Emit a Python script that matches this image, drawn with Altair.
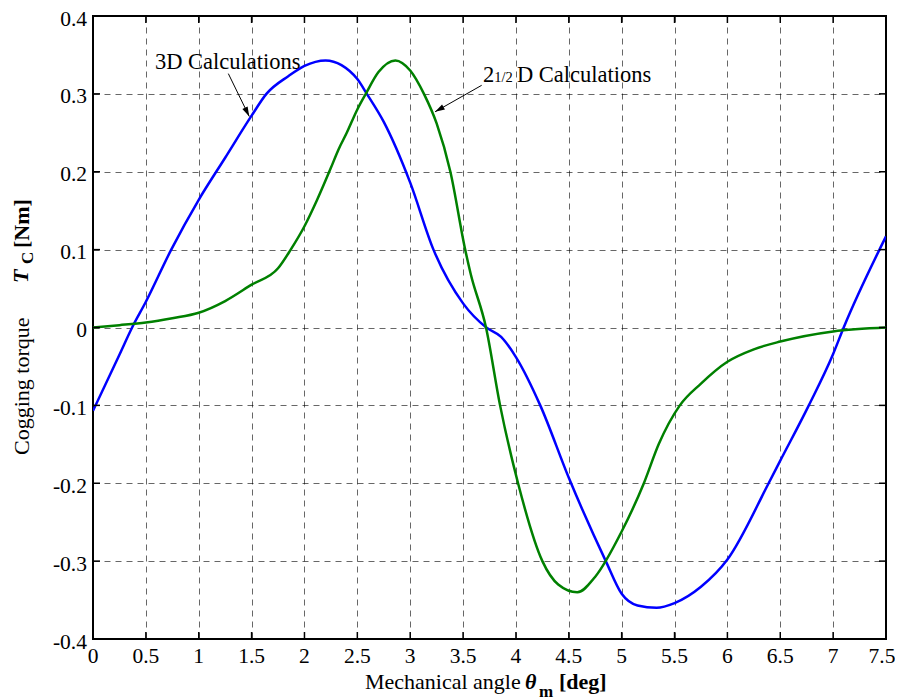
import altair as alt
import pandas as pd

# 3D Calculations (blue)
x_3d = [0, 0.25, 0.37, 0.5, 0.74, 1.0, 1.25, 1.5, 1.64, 1.85, 2.0, 2.2, 2.35, 2.5, 2.59, 2.75,
        3.0, 3.22, 3.5, 3.72, 3.86, 4.0, 4.23, 4.5, 4.85, 5.0, 5.15, 5.33, 5.5, 5.75, 6.0,
        6.39, 6.5, 6.77, 7.0, 7.1, 7.5]
t_3d = [-0.107, -0.035, 0.0, 0.033, 0.10, 0.164, 0.218, 0.272, 0.30, 0.323, 0.336, 0.343, 0.337,
        0.319, 0.30, 0.264, 0.186, 0.10, 0.031, 0.0, -0.012, -0.038, -0.10, -0.193, -0.30,
        -0.342, -0.357, -0.36, -0.354, -0.333, -0.298, -0.20, -0.171, -0.10, -0.034, 0.0, 0.117]

# 2 1/2 D Calculations (green)
x_25d = [0, 0.25, 0.5, 0.75, 1.0, 1.25, 1.5, 1.75, 1.87, 2.0, 2.12, 2.25, 2.32, 2.4, 2.5, 2.58,
         2.7, 2.86, 3.0, 3.13, 3.25, 3.38, 3.52, 3.57, 3.717, 3.85, 4.02, 4.25, 4.4, 4.58,
         4.75, 5.0, 5.21, 5.35, 5.55, 5.75, 6.0, 6.25, 6.5, 7.0, 7.5]
t_25d = [0.0, 0.003, 0.0065, 0.012, 0.019, 0.034, 0.055, 0.076, 0.10, 0.13, 0.164, 0.205, 0.228,
         0.25, 0.28, 0.30, 0.328, 0.343, 0.33, 0.30, 0.262, 0.20, 0.10, 0.07, 0.0, -0.10, -0.20,
         -0.30, -0.33, -0.34, -0.32, -0.262, -0.20, -0.15, -0.10, -0.072, -0.044, -0.028,
         -0.018, -0.005, 0.0]

x_ticks = [0, 0.5, 1, 1.5, 2, 2.5, 3, 3.5, 4, 4.5, 5, 5.5, 6, 6.5, 7, 7.5]
x_tick_labels = ["0", "0.5", "1", "1.5", "2", "2.5", "3", "3.5", "4", "4.5", "5", "5.5",
                 "6", "6.5", "7", "7.5"]
y_ticks = [-0.4, -0.3, -0.2, -0.1, 0, 0.1, 0.2, 0.3, 0.4]
y_tick_labels = ["-0.4", "-0.3", "-0.2", "-0.1", "0", "0.1", "0.2", "0.3", "0.4"]

# annotation arrows (data coords): start -> tip
arrow_x1 = [1.28, 3.676]
arrow_y1 = [0.326, 0.311]
arrow_x2 = [1.478, 3.235]
arrow_y2 = [0.271, 0.277]
arrow_angle = [153.8, 240.3]

FONT = "Liberation Serif"
W, H = 793, 623

df = pd.concat([
    pd.DataFrame({"x": x_3d, "t": t_3d, "s": "3D"}),
    pd.DataFrame({"x": x_25d, "t": t_25d, "s": "2.5D"}),
])

xs = alt.Scale(domain=[0, 7.5], nice=False, zero=False)
ys = alt.Scale(domain=[-0.4, 0.4], nice=False, zero=False)
common = dict(title=None, grid=True, labels=False, gridColor="black", gridDash=[6, 5],
              gridWidth=0.8, gridOpacity=0.75, domain=False, ticks=False)
x_axis = alt.Axis(values=x_ticks, **common)
y_axis = alt.Axis(values=y_ticks, **common)


def X(f):
    return alt.X(f, scale=xs, axis=x_axis, title=None)


def Y(f):
    return alt.Y(f, scale=ys, axis=y_axis, title=None)


lines = alt.Chart(df).mark_line(strokeWidth=2.5, interpolate="monotone", clip=True).encode(
    x=X("x:Q"),
    y=Y("t:Q"),
    color=alt.Color("s:N", scale=alt.Scale(domain=["3D", "2.5D"], range=["#0000ff", "#008000"]),
                    legend=None),
    detail="s:N",
)

xt = pd.DataFrame({"xv": x_ticks, "lab": x_tick_labels})
yt = pd.DataFrame({"yv": y_ticks, "lab": y_tick_labels})
tick_len = 7
tb = alt.Chart(xt).mark_rule(color="black", strokeWidth=1.5).encode(
    x=X("xv:Q"), y=alt.value(H), y2=alt.value(H - tick_len))
tt = alt.Chart(xt).mark_rule(color="black", strokeWidth=1.5).encode(
    x=X("xv:Q"), y=alt.value(0), y2=alt.value(tick_len))
tl = alt.Chart(yt).mark_rule(color="black", strokeWidth=1.5).encode(
    y=Y("yv:Q"), x=alt.value(0), x2=alt.value(tick_len))
tr = alt.Chart(yt).mark_rule(color="black", strokeWidth=1.5).encode(
    y=Y("yv:Q"), x=alt.value(W), x2=alt.value(W - tick_len))

xt_main = xt.iloc[:-1]
xt_last = xt.iloc[-1:]
xlab = alt.Chart(xt_main).mark_text(font=FONT, fontSize=21.5, color="black", align="center",
                                    baseline="alphabetic").encode(
    x=X("xv:Q"), y=alt.value(H + 24), text="lab:N")
xlab_last = alt.Chart(xt_last).mark_text(font=FONT, fontSize=21.5, color="black",
                                         align="center", baseline="alphabetic", dx=-4).encode(
    x=X("xv:Q"), y=alt.value(H + 24), text="lab:N")
ylab = alt.Chart(yt).mark_text(font=FONT, fontSize=21.5, color="black", align="right",
                               baseline="alphabetic", dy=9.5).encode(
    y=Y("yv:Q"), x=alt.value(-6), text="lab:N")

adf = pd.DataFrame({"x1": arrow_x1, "y1": arrow_y1, "x2": arrow_x2, "y2": arrow_y2,
                    "a": arrow_angle})
arrow_lines = alt.Chart(adf).mark_rule(color="black", strokeWidth=1).encode(
    x=X("x1:Q"), y=Y("y1:Q"), x2="x2:Q", y2="y2:Q")
arrow_heads = alt.Chart(adf).mark_point(
    shape="M0,0L-0.3,1L0.3,1Z", filled=True, color="black", opacity=1, size=380).encode(
    x=X("x2:Q"), y=Y("y2:Q"),
    angle=alt.Angle("a:Q", scale=None))


def txt(s, x, y, size=22, weight="normal", style="normal", angle=0, align="left"):
    kw = dict(font=FONT, fontSize=size, fontWeight=weight, fontStyle=style, align=align,
              baseline="alphabetic", color="black")
    if angle:
        kw["angle"] = angle
    return alt.Chart(pd.DataFrame({"t": [s]})).mark_text(**kw).encode(
        text="t:N", x=alt.value(x), y=alt.value(y))


def dtxt(s, x, y, size=22.5):
    return alt.Chart(pd.DataFrame({"t": [s], "x": [x], "y": [y]})).mark_text(
        font=FONT, fontSize=size, align="left", baseline="alphabetic", color="black").encode(
        text="t:N", x=X("x:Q"), y=Y("y:Q"))


labels = [
    dtxt("3D Calculations", 0.586, 0.332),
    dtxt("2", 3.689, 0.3155),
    dtxt("1/2", 3.795, 0.3155, size=14.5),
    dtxt("D Calculations", 4.01, 0.3155),
    # x title
    txt("Mechanical angle", 272, 673),
    txt("θ", 432, 673, weight="bold", style="italic"),
    txt("m", 446, 681, size=17, weight="bold"),
    txt("[deg]", 466, 673, weight="bold"),
    # y title
    txt("Cogging torque", -64, 439, angle=270),
    txt("T", -65, 267, weight="bold", style="italic", angle=270),
    txt("C", -60, 248, size=17, weight="bold", angle=270),
    txt("[Nm]", -64, 232, weight="bold", angle=270),
]

chart = alt.layer(lines, tb, tt, tl, tr, xlab, xlab_last, ylab, arrow_lines, arrow_heads,
                  *labels).properties(
    width=W, height=H,
    background="white",
    autosize=alt.AutoSizeParams(type="none"),
    padding={"left": 85, "top": 8, "right": 9, "bottom": 61},
).configure_view(stroke="black", strokeWidth=2)

chart.save("out.html", embed_options={"renderer": "svg", "actions": False})
